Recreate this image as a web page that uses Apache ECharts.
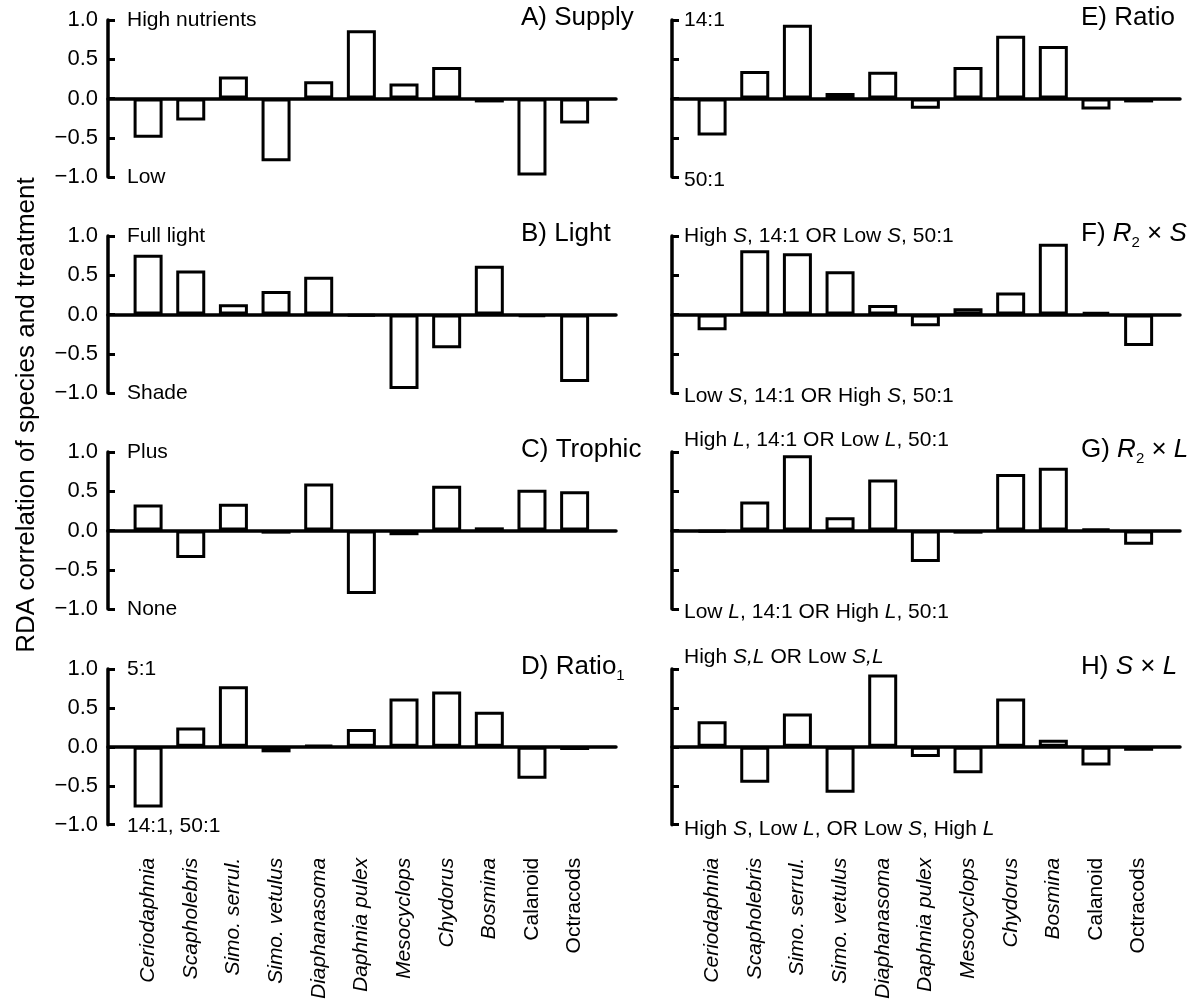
<!DOCTYPE html>
<html>
<head>
<meta charset="utf-8">
<script src="https://cdn.jsdelivr.net/npm/echarts@6/dist/echarts.min.js"></script>
<style>
  html, body { margin: 0; padding: 0; background: #fff; }
  #chart { width: 1199px; height: 1002px; }
</style>
</head>
<body>
<div id="chart"></div>
<script>
const species = ['Ceriodaphnia', 'Scapholebris', 'Simo. serrul.', 'Simo. vetulus', 'Diaphanasoma',
  'Daphnia pulex', 'Mesocyclops', 'Chydorus', 'Bosmina', 'Calanoid', 'Octracods'];
const italicSpecies = [true, true, true, true, true, true, true, true, true, false, false];

// RDA correlations, one array per panel
const supply  = [-0.50, -0.28, 0.28, -0.80, 0.22, 0.87, 0.19, 0.40, -0.05, -0.98, -0.32];
const light   = [0.76, 0.56, 0.13, 0.30, 0.48, -0.02, -0.95, -0.43, 0.62, -0.03, -0.86];
const trophic = [0.33, -0.35, 0.34, -0.04, 0.60, -0.81, -0.06, 0.57, 0.04, 0.52, 0.50];
const ratio1  = [-0.78, 0.25, 0.78, -0.07, 0.02, 0.23, 0.62, 0.71, 0.45, -0.41, -0.04];
const ratio   = [-0.47, 0.35, 0.94, 0.07, 0.34, -0.13, 0.40, 0.80, 0.67, -0.14, -0.05];
const r2xS    = [-0.20, 0.82, 0.78, 0.55, 0.12, -0.15, 0.08, 0.28, 0.90, 0.03, -0.40];
const r2xL    = [-0.02, 0.37, 0.96, 0.17, 0.65, -0.40, -0.04, 0.72, 0.80, 0.02, -0.18];
const sxL     = [0.33, -0.46, 0.43, -0.59, 0.93, -0.13, -0.34, 0.62, 0.09, -0.24, -0.05];

const FONT = '"Liberation Sans", Arial, Helvetica, sans-serif';

const panels = [
  { data: supply,  col: 0, row: 0, title: '{n|A) Supply}', hi: '{a|High nutrients}', lo: '{a|Low}' },
  { data: light,   col: 0, row: 1, title: '{n|B) Light}', hi: '{a|Full light}', lo: '{a|Shade}' },
  { data: trophic, col: 0, row: 2, title: '{n|C) Trophic}', hi: '{a|Plus}', lo: '{a|None}' },
  { data: ratio1,  col: 0, row: 3, title: '{n|D) Ratio}{sub|1}', hi: '{a|5:1}', lo: '{a|14:1, 50:1}' },
  { data: ratio,   col: 1, row: 0, title: '{n|E) Ratio}', hi: '{a|14:1}', lo: '{a|50:1}' },
  { data: r2xS,    col: 1, row: 1, title: '{n|F) }{ni|R}{sub|2}{n| × }{ni|S}',
    hi: '{a|High }{ai|S}{a|, 14:1 OR Low }{ai|S}{a|, 50:1}',
    lo: '{a|Low }{ai|S}{a|, 14:1 OR High }{ai|S}{a|, 50:1}' },
  { data: r2xL,    col: 1, row: 2, title: '{n|G) }{ni|R}{sub|2}{n| × }{ni|L}',
    hi: '{a|High }{ai|L}{a|, 14:1 OR Low }{ai|L}{a|, 50:1}',
    lo: '{a|Low }{ai|L}{a|, 14:1 OR High }{ai|L}{a|, 50:1}', hiLift: 12 },
  { data: sxL,     col: 1, row: 3, title: '{n|H) }{ni|S}{n| × }{ni|L}',
    hi: '{a|High }{ai|S,L}{a| OR Low }{ai|S,L}',
    lo: '{a|High }{ai|S}{a|, Low }{ai|L}{a|, OR Low }{ai|S}{a|, High }{ai|L}', hiLift: 12 }
];

const colLeft = [108, 672];
const rowTop = [20, 236, 452, 669];
const gridW = 508, gridH = 157;
const xMin = -0.94, xMax = 10.97;

const richText = {
  n: { fontSize: 26, fontFamily: FONT, lineHeight: 32, fill: '#000' },
  ni: { fontSize: 26, fontFamily: FONT, fontStyle: 'italic', lineHeight: 32, fill: '#000' },
  sub: { fontSize: 15, fontFamily: FONT, lineHeight: 15, verticalAlign: 'bottom', fill: '#000' },
  a: { fontSize: 21, fontFamily: FONT, fill: '#000' },
  ai: { fontSize: 21, fontFamily: FONT, fontStyle: 'italic', fill: '#000' }
};

const grid = [], xAxis = [], yAxis = [], series = [], graphic = [];

panels.forEach((p, i) => {
  const left = colLeft[p.col], top = rowTop[p.row];
  grid.push({ left: left, top: top, width: gridW, height: gridH });
  xAxis.push({
    type: 'value', gridIndex: i, min: xMin, max: xMax,
    axisLine: { onZero: true, lineStyle: { color: '#000', width: 3.5 } },
    axisTick: { show: false }, axisLabel: { show: false }, splitLine: { show: false }
  });
  yAxis.push({
    type: 'value', gridIndex: i, min: -1, max: 1, interval: 0.5,
    axisLine: { show: true, onZero: false, lineStyle: { color: '#000', width: 3.5 } },
    axisTick: { show: true, inside: true, length: 7, lineStyle: { color: '#000', width: 3 } },
    axisLabel: {
      show: p.col === 0, color: '#000', fontSize: 22, fontFamily: FONT, margin: 10,
      formatter: v => v.toFixed(1).replace('-', '\u2212')
    },
    splitLine: { show: false }
  });
  series.push({
    type: 'bar', xAxisIndex: i, yAxisIndex: i, barWidth: 29, silent: true,
    itemStyle: { color: '#fff', borderColor: '#000', borderWidth: 3 },
    data: p.data.map((v, k) => [k, v])
  });

  graphic.push({
    type: 'text', x: p.col === 0 ? 521 : 1081, y: top - 2,
    style: { text: p.title, rich: richText, fill: '#000', align: 'left', verticalAlign: 'middle' }
  });
  const ax = p.col === 0 ? left + 19 : left + 12;
  graphic.push({
    type: 'text', x: ax, y: top - (p.hiLift || 0),
    style: { text: p.hi, rich: richText, fill: '#000', align: 'left', verticalAlign: 'middle' }
  });
  graphic.push({
    type: 'text', x: ax, y: top + gridH + (p.col === 0 ? 0 : 3),
    style: { text: p.lo, rich: richText, fill: '#000', align: 'left', verticalAlign: 'middle' }
  });
});

// species names under the bottom row of each column
[3, 7].forEach(gi => {
  xAxis.push({
    type: 'value', gridIndex: gi, min: xMin, max: xMax, position: 'bottom',
    axisLine: { show: false, onZero: false }, axisTick: { show: false }, splitLine: { show: false },
    axisLabel: {
      customValues: species.map((s, k) => k), rotate: 90, margin: 33,
      formatter: v => (italicSpecies[v] ? '{i|' : '{r|') + species[v] + '}',
      rich: {
        i: { fontSize: 21, fontFamily: FONT, fontStyle: 'italic', color: '#000' },
        r: { fontSize: 21, fontFamily: FONT, color: '#000' }
      }
    }
  });
});

graphic.push({
  type: 'text', x: 27, y: 415, rotation: Math.PI / 2,
  style: {
    text: 'RDA correlation of species and treatment', fill: '#000',
    font: '26px ' + FONT, align: 'center', verticalAlign: 'middle'
  }
});

const chart = echarts.init(document.getElementById('chart'), null, { renderer: 'canvas' });
chart.setOption({
  animation: false,
  backgroundColor: '#fff',
  grid: grid,
  xAxis: xAxis,
  yAxis: yAxis,
  series: series,
  graphic: graphic
});
</script>
</body>
</html>
